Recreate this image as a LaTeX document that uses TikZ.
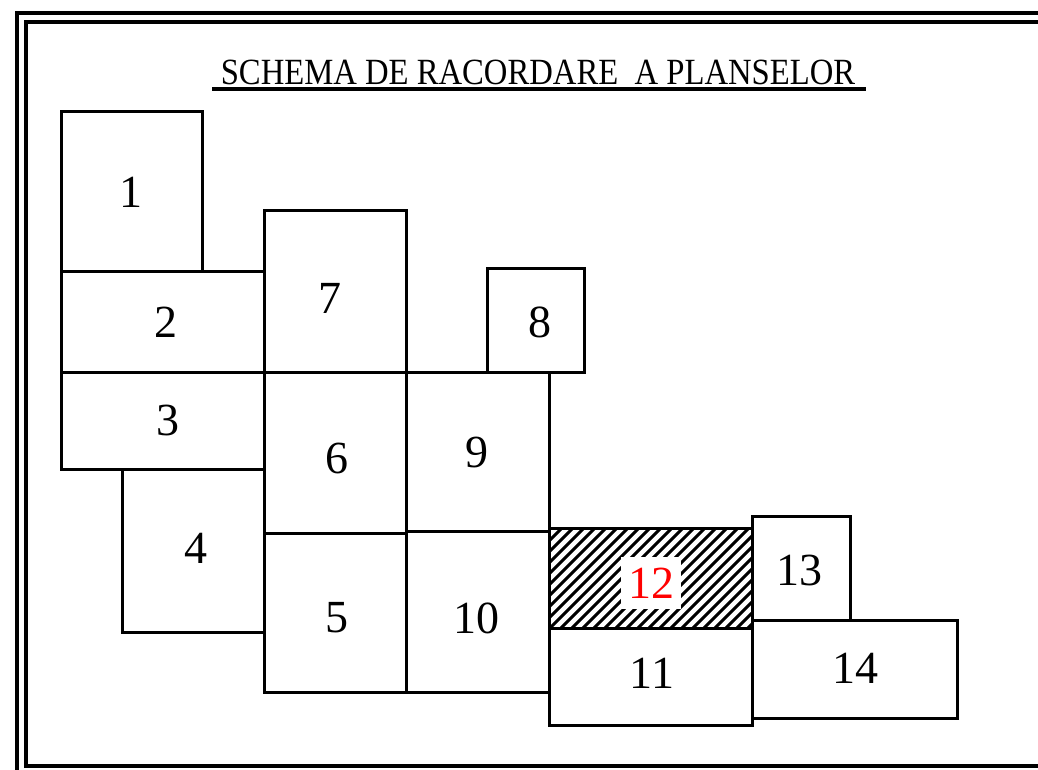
\documentclass[tikz,border=0pt]{standalone}
\usepackage{fontspec}
\setmainfont{Liberation Serif}
\begin{document}
\begin{tikzpicture}[x=1pt,y=-1pt,
  box/.style={draw, line width=3pt, inner sep=0pt, outer sep=0pt},
  num/.style={inner sep=0pt, font=\fontsize{46}{52}\selectfont},
  frame/.style={line width=4pt}]
\useasboundingbox (0,0) rectangle (1038,769);
% frame
\draw[frame] (17,772) -- (17,13) -- (1040,13);
\draw[frame] (1040,22) -- (26,22) -- (26,766) -- (1040,766);
% title
\node[inner sep=0pt, anchor=base, font=\fontsize{33}{38}\selectfont] (title) at (538,84) {\scalebox{0.99}[1.12]{SCHEMA DE RACORDARE~ A PLANSELOR}};
\coordinate (ulA) at (212,89);
\coordinate (ulB) at (866,89);
\draw[line width=3.2pt] (ulA) -- (ulB);
% hatching of sheet 12
\begin{scope}
\clip (549,528) rectangle (752,628);
\foreach \x in {440,451,...,770}{
  \draw[line width=3pt] (\x,628) -- ++(100,-100);
}
\end{scope}
% sheets
\node[box, minimum width=141, minimum height=160] (b1) at (131.5,191) {};
\node[box, minimum width=203, minimum height=101] (b2) at (162.5,321.5) {};
\node[box, minimum width=203, minimum height=97] (b3) at (162.5,420.5) {};
\node[box, minimum width=142, minimum height=163] (b4) at (193,550.5) {};
\node[box, minimum width=142, minimum height=162] (b7) at (335,291) {};
\node[box, minimum width=142, minimum height=161] (b6) at (335,452.5) {};
\node[box, minimum width=142, minimum height=159] (b5) at (335,612.5) {};
\node[box, minimum width=97, minimum height=104] (b8) at (535.5,320) {};
\node[box, minimum width=143, minimum height=159] (b9) at (477.5,451.5) {};
\node[box, minimum width=143, minimum height=161] (b10) at (477.5,611.5) {};
\node[box, minimum width=203, minimum height=100] (b12) at (650.5,578) {};
\node[box, minimum width=203, minimum height=97] (b11) at (650.5,676.5) {};
\node[box, minimum width=98, minimum height=104] (b13) at (801,568) {};
\node[box, minimum width=205, minimum height=98] (b14) at (854.5,669) {};
% labels
\node[num] (l1) at (131,192) {1};
\node[num] (l2) at (166,322) {2};
\node[num] (l3) at (168,420) {3};
\node[num] (l4) at (196,548) {4};
\node[num] (l5) at (337,618) {5};
\node[num] (l6) at (337,458) {6};
\node[num] (l7) at (330,298) {7};
\node[num] (l8) at (540,322) {8};
\node[num] (l9) at (477,452) {9};
\node[num] (l10) at (476,618) {10};
\node[num] (l11) at (652,673) {11};
\node[num, fill=white, minimum width=60, minimum height=52, text=red] (l12) at (651,583) {12};
\node[num] (l13) at (799,570) {13};
\node[num] (l14) at (855,668) {14};
\end{tikzpicture}
\end{document}
